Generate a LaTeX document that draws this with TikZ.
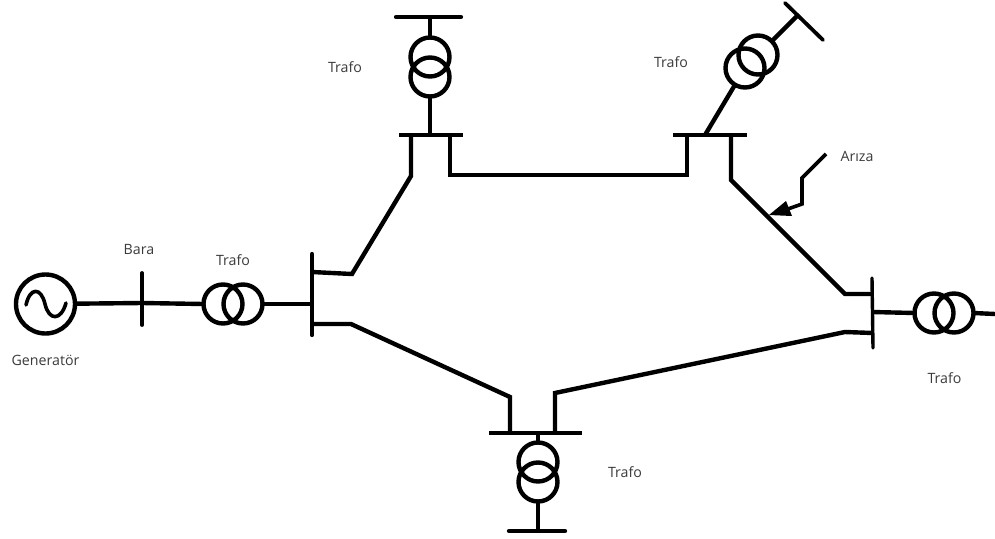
\documentclass[tikz,border=0pt]{standalone}
\usepackage{fontspec}
\setmainfont{Open Sans}
\usetikzlibrary{arrows.meta}
\definecolor{labelgrey}{HTML}{3A3A3A}
\tikzset{
  wire/.style={line width=4.4pt,line cap=butt,line join=miter,black},
  busbar/.style={line width=3.8pt,line cap=round,black},
  thinbus/.style={line width=3.2pt,line cap=butt,black},
  coil/.style={circle,draw=black,line width=4.4pt,minimum size=39pt,inner sep=0pt,outer sep=0pt},
  gencoil/.style={circle,draw=black,line width=4.4pt,minimum size=59pt,inner sep=0pt,outer sep=0pt},
  lbl/.style={font=\fontsize{14.2}{16}\selectfont,text=labelgrey,inner sep=0pt}
}
\begin{document}
\begin{tikzpicture}[x=1pt,y=-1pt]
\useasboundingbox (0,0) rectangle (995,538);
% generator
\node[gencoil] (gen) at (45.5,304) {};
\draw[line width=3.6pt,line cap=round] (26,305) .. controls (30,287) and (41,287) .. (45,304) .. controls (49,321) and (61,321) .. (66,303);
% buses as coordinates
\coordinate (b1t) at (142,273); \coordinate (b1b) at (142,325); \coordinate (b1m) at (142,303);
\coordinate (b2t) at (312,254); \coordinate (b2b) at (312,335);
\coordinate (b2a) at (312,272); \coordinate (b2m) at (312,304); \coordinate (b2c) at (312,324);
\coordinate (b3l) at (399,135); \coordinate (b3r) at (463,135);
\coordinate (b3a) at (411,135); \coordinate (b3m) at (430,135); \coordinate (b3c) at (450,135);
\coordinate (b4l) at (673,135); \coordinate (b4r) at (747,135);
\coordinate (b4a) at (687,135); \coordinate (b4m) at (705,135); \coordinate (b4c) at (731,135);
\coordinate (b5t) at (872,278); \coordinate (b5b) at (873,348);
\coordinate (b5a) at (872,294); \coordinate (b5m) at (872,312); \coordinate (b5c) at (873,333);
\coordinate (b6l) at (489,433); \coordinate (b6r) at (582,433);
\coordinate (b6a) at (510,433); \coordinate (b6m) at (538,433); \coordinate (b6c) at (555,433);
\coordinate (t1l) at (396,17); \coordinate (t1r) at (461,17); \coordinate (t1m) at (430,17);
\coordinate (t2l) at (785,3); \coordinate (t2r) at (823,40); \coordinate (t2m) at (797,16);
\coordinate (t3l) at (509,531); \coordinate (t3r) at (565,531); \coordinate (t3m) at (538,531);
\coordinate (t4e) at (995,314);
% transformers
\node[coil] (ta1) at (223,304) {}; \node[coil] (ta2) at (243,304) {};
\node[coil] (tb1) at (430,57) {};  \node[coil] (tb2) at (430,77) {};
\node[coil] (tc1) at (758,55) {};  \node[coil] (tc2) at (745,68) {};
\node[coil] (td1) at (934,313) {}; \node[coil] (td2) at (954,313) {};
\node[coil] (te1) at (538,462) {}; \node[coil] (te2) at (538,482) {};
% bars
\draw[busbar] (b1t) -- (b1b);
\draw[busbar,line width=4.2pt] (b2t) -- (b2b);
\draw[thinbus] (b3l) -- (b3r);
\draw[thinbus] (b4l) -- (b4r);
\draw[busbar,line width=3.4pt] (b5t) -- (b5b);
\draw[thinbus] (b6l) -- (b6r);
\draw[busbar,line width=4.2pt] (t1l) -- (t1r);
\draw[busbar,line width=3.8pt] (t2l) -- (t2r);
\draw[busbar,line width=4.4pt] (t3l) -- (t3r);
% connections
\draw[wire] (gen) -- (b1m) -- (ta1.west);
\draw[wire] (ta2.east) -- (b2m);
\draw[wire] (b2a) -- (352,274) -- (411,176) -- (b3a);
\draw[wire] (b2c) -- (351,324) -- (510,397) -- (b6a);
\draw[wire] (b3c) -- (450,175) -- (687,175) -- (b4a);
\draw[wire] (b3m) -- (tb2.south);
\draw[wire] (tb1.north) -- (t1m);
\draw[wire] (b4m) -- (tc2);
\draw[wire] (tc1) -- (t2m);
\draw[wire] (b4c) -- (731,180) -- (845,294) -- (b5a);
\draw[wire] (b5c) -- (845,332) -- (555,393) -- (b6c);
\draw[wire] (b5m) -- (td1.west);
\draw[wire] (td2.east) -- (t4e);
\draw[wire] (b6m) -- (te1.north);
\draw[wire] (te2.south) -- (t3m);
% fault arrow
\coordinate (f0) at (826,154);
\coordinate (f3) at (769,215);
\draw[line width=3.6pt] (f0) -- (802,178) -- (802,204) -- (785,210);
\fill (f3) -- (786,201) -- (792,216) -- cycle;
% labels
\node[lbl] (lbara) at (139,249) {Bara};
\node[lbl] (lt1) at (233,260) {Trafo};
\node[lbl] (lgen) at (45.5,360) {Generatör};
\node[lbl] (lt2) at (345,67) {Trafo};
\node[lbl] (lt3) at (671,62) {Trafo};
\node[lbl] (lariza) at (857,156) {Arıza};
\node[lbl] (lt4) at (944.5,378) {Trafo};
\node[lbl] (lt5) at (625,472) {Trafo};
\end{tikzpicture}
\end{document}
